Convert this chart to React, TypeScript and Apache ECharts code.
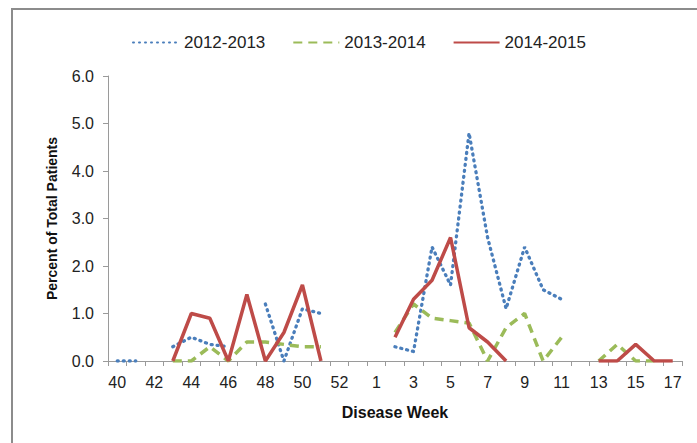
import React, { useEffect, useRef } from "react";
import * as echarts from "echarts";

const weeks: string[] = [
  "40", "41", "42", "43", "44", "45", "46", "47", "48", "49", "50", "51", "52", "53",
  "1", "2", "3", "4", "5", "6", "7", "8", "9", "10", "11", "12", "13", "14", "15", "16", "17",
];

const season2012: (number | null)[] = [
  0, 0, null, 0.3, 0.5, 0.35, 0.3, null, 1.2, 0, 1.1, 1.0, null, null,
  null, 0.3, 0.2, 2.4, 1.6, 4.8, 2.6, 1.1, 2.4, 1.5, 1.3, null, null, null, null, null, null,
];

const season2013: (number | null)[] = [
  null, null, null, 0, 0, 0.3, 0, 0.4, 0.4, 0.35, 0.3, 0.3, null, null,
  null, 0.6, 1.2, 0.9, 0.85, 0.8, 0, 0.7, 1.0, 0, 0.5, null, 0, 0.35, 0, 0, null,
];

const season2014: (number | null)[] = [
  null, null, null, 0, 1.0, 0.9, 0, 1.4, 0, 0.6, 1.6, 0, null, null,
  null, 0.5, 1.3, 1.7, 2.6, 0.7, 0.4, 0, null, null, null, null, 0, 0, 0.35, 0, 0,
];

const seriesNames = ["2012-2013", "2013-2014", "2014-2015"];

export default function App() {
  const ref = useRef<HTMLDivElement>(null);
  useEffect(() => {
    if (!ref.current) return;
    const chart = echarts.init(ref.current, undefined, { renderer: "svg" });
    const tickFont = "'Liberation Sans', Arial, sans-serif";
    chart.setOption({
      animation: false,
      backgroundColor: "#ffffff",
      graphic: [
        {
          type: "rect",
          shape: { x: 12, y: 9, width: 720, height: 460 },
          style: { fill: "none", stroke: "#8c8c8c", lineWidth: 2 },
          silent: true,
        },
      ],
      legend: {
        top: 29,
        left: 127,
        itemWidth: 46,
        itemHeight: 12,
        itemGap: 27,
        itemStyle: { opacity: 0 },
        textStyle: {
          fontFamily: tickFont,
          fontSize: 17,
          color: "#222",
        },
        data: seriesNames,
      },
      grid: { left: 108, right: 15, top: 76, bottom: 82 },
      xAxis: {
        type: "category",
        data: weeks,
        boundaryGap: true,
        name: "Disease Week",
        nameLocation: "middle",
        nameGap: 43,
        nameTextStyle: { fontFamily: tickFont, fontSize: 16, fontWeight: "bold", color: "#111" },
        axisLine: { lineStyle: { color: "#9a9a9a", width: 1 } },
        axisTick: { show: true, interval: 0, length: 5, lineStyle: { color: "#9a9a9a" } },
        axisLabel: { interval: 1, margin: 13, fontFamily: tickFont, fontSize: 16, color: "#222" },
        splitLine: { show: false },
      },
      yAxis: {
        type: "value",
        min: 0,
        max: 6,
        interval: 1,
        name: "Percent of Total Patients",
        nameLocation: "middle",
        nameGap: 49,
        nameTextStyle: { fontFamily: tickFont, fontSize: 14, fontWeight: "bold", color: "#111" },
        axisLine: { show: true, lineStyle: { color: "#9a9a9a", width: 1 } },
        axisTick: { show: true, length: 5, inside: false, lineStyle: { color: "#9a9a9a" } },
        axisLabel: {
          formatter: (v: number) => v.toFixed(1),
          margin: 14,
          fontFamily: tickFont,
          fontSize: 16,
          color: "#222",
        },
        splitLine: { show: false },
      },
      series: [
        {
          name: seriesNames[0],
          type: "line",
          data: season2012,
          showSymbol: false,
          symbol: "none",
          connectNulls: false,
          lineStyle: { color: "#4a7ebb", width: 3.3, type: [1, 5], cap: "round" },
          itemStyle: { color: "#4a7ebb" },
          z: 2,
        },
        {
          name: seriesNames[1],
          type: "line",
          data: season2013,
          showSymbol: false,
          symbol: "none",
          connectNulls: false,
          lineStyle: { color: "#9bbb59", width: 3.5, type: [9, 6] },
          itemStyle: { color: "#9bbb59" },
          z: 3,
        },
        {
          name: seriesNames[2],
          type: "line",
          data: season2014,
          showSymbol: false,
          symbol: "none",
          connectNulls: false,
          lineStyle: { color: "#be4b48", width: 3.5 },
          itemStyle: { color: "#be4b48" },
          z: 4,
        },
      ],
    });
    return () => chart.dispose();
  }, []);
  return (
    <div
      ref={ref}
      style={{ position: "fixed", left: 0, top: 0, width: 697, height: 443 }}
    />
  );
}
